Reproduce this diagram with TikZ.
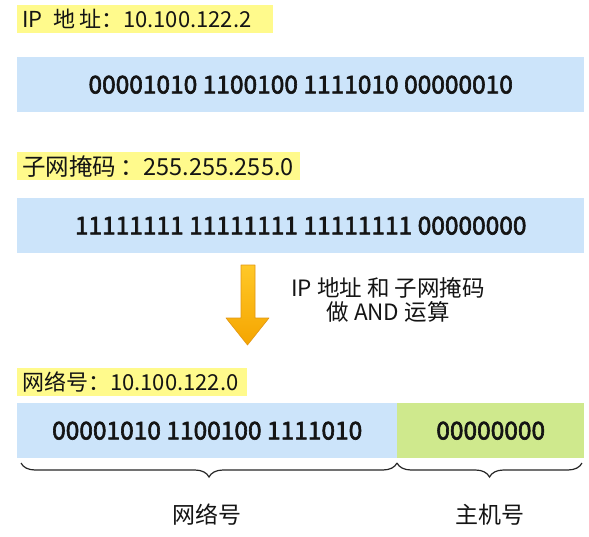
\documentclass[tikz,border=0pt]{standalone}
\usepackage{fontspec}
\setmainfont{Noto Sans CJK SC}
\newfontfamily\numfont[FakeBold=2.5]{Noto Sans CJK SC}
\usetikzlibrary{decorations.pathreplacing,shadings}
\definecolor{ylw}{RGB}{255,250,140}
\definecolor{barblue}{RGB}{204,228,250}
\definecolor{bargreen}{RGB}{207,233,141}
\definecolor{arrtop}{RGB}{255,200,40}
\definecolor{arrbot}{RGB}{245,165,0}
\definecolor{arredge}{RGB}{225,150,20}
\definecolor{txt}{RGB}{20,20,20}
\begin{document}
\begin{tikzpicture}[x=1pt,y=-1pt,
  lbl/.style={fill=ylw, inner xsep=5pt, inner ysep=0pt, anchor=north west, minimum height=28pt, align=left, font=\fontsize{22}{24}\selectfont, text=txt},
  bar/.style={inner sep=0pt, anchor=north west, minimum height=55pt, font=\fontsize{24.5}{26}\numfont, text=txt},
  captxt/.style={font=\fontsize{22.5}{24}\selectfont, text=txt, align=center},
  brc/.style={draw=black!85, line width=1.2pt, decorate, decoration={brace, mirror, amplitude=14pt, aspect=0.5}}
]
\useasboundingbox (0,0) rectangle (589,536);

% labels
\node[lbl, text width=246pt] (l1) at (17,5) {IP\, 地\,址：10.100.122.2};
\node[lbl, text width=273pt, font=\fontsize{23.5}{24}\selectfont] (l2) at (17,152) {子网掩码\,：255.255.255.0};
\node[lbl, text width=220pt] (l3) at (17,368) {网络号：10.100.122.0};

% bars
\node[bar, fill=barblue, minimum width=567pt] (b1) at (17,57) {00001010 1100100 1111010 00000010};
\node[bar, fill=barblue, minimum width=567pt] (b2) at (17,198) {11111111 11111111 11111111 00000000};
\node[bar, fill=barblue, minimum width=380pt] (b3) at (17,403) {00001010 1100100 1111010};
\node[bar, fill=bargreen, minimum width=187pt] (b4) at (397,403) {00000000};

% arrow
\shade[top color=arrtop, bottom color=arrbot, draw=arredge, line width=0.6pt, line join=round]
  (241,265) -- (255,265) -- (255,318) -- (269,318) -- (247.5,345) -- (226,318) -- (241,318) -- cycle;

\node[captxt] (op) at (388,300) {IP 地址 和 子网掩码\\做 AND 运算};

% braces
\coordinate (bl) at (21,463);
\coordinate (bm) at (397,463);
\coordinate (br) at (582,463);
\draw[brc] (bl) -- (bm);
\draw[brc] (bm) -- (br);

\node[captxt, font=\fontsize{23}{24}\selectfont] (n1) at (207,515) {网络号};
\node[captxt, font=\fontsize{23}{24}\selectfont] (n2) at (490,515) {主机号};
\end{tikzpicture}
\end{document}
